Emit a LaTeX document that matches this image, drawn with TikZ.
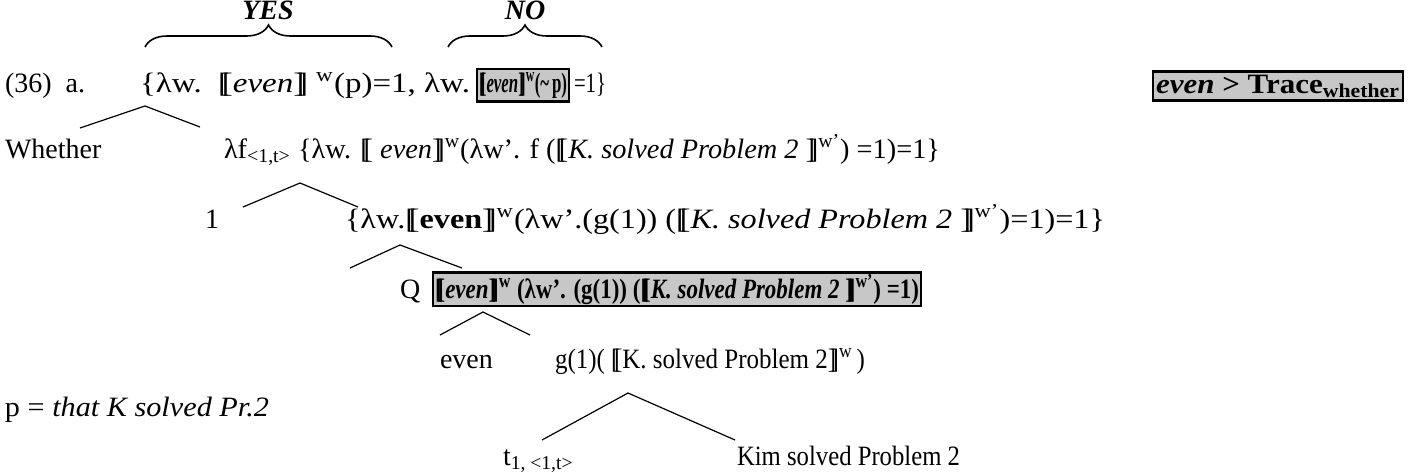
\documentclass[tikz,border=0pt]{standalone}
\usepackage{fontspec}
\usepackage{graphicx}
\setmainfont{Liberation Serif}
\usetikzlibrary{positioning,decorations.pathreplacing}
\newcommand{\lsem}{[\kern-.22em[}
\newcommand{\rsem}{]\kern-.22em]}
\newcommand{\wsup}{\textsuperscript{w}}
\newcommand{\wpsup}{\textsuperscript{w'}}
\newcommand{\fitw}[2]{\resizebox{#1}{\height}{#2}}
\begin{document}
\begin{tikzpicture}[
  x=0.5pt, y=-0.5pt,
  every node/.style={inner sep=0pt, outer sep=0pt, font=\fontsize{14}{16}\selectfont},
  lab/.style={anchor=base west},
  hl/.style={anchor=base west, draw, line width=1.2pt, fill=black!22, inner sep=1pt, font=\fontsize{14}{16}\selectfont\bfseries},
  tag/.style={anchor=base, font=\fontsize{14}{16}\selectfont\bfseries\itshape},
  brc/.style={decorate, decoration={brace, amplitude=11pt}, line width=0.8pt},
  branch/.style={line width=0.6pt}
]
\useasboundingbox (0,0) rectangle (1416,472);

% top labels and braces
\coordinate (yesL) at (145,47);
\coordinate (yesR) at (392,47);
\coordinate (noL) at (448,47);
\coordinate (noR) at (602,47);
\draw[brc] (yesL) -- (yesR);
\draw[brc] (noL) -- (noR);
\node[tag] (yes) at (268,19) {YES};
\node[tag] (no) at (525,19) {NO};

% row 1
\node[lab] (ex) at (5,92) {(36)\hspace{7pt}a.};
\node[lab] (setA) at (140,92) {\fitw{165pt}{\{λw.\ \ \lsem\textit{even}\rsem\ \wsup(p)=1, λw.}};
\node[hl, inner ysep=1.8pt] (nobox) at (477,92) {\fitw{44pt}{\lsem\textit{even}\rsem\wsup(\textasciitilde\,p)}};
\node[lab] (setB) at (574,92) {\fitw{16pt}{=1\}}};
\node[hl, inner sep=1.5pt] (scope) at (1153,93) {\fitw{122pt}{\textit{even} > Trace\textsubscript{whether}}};

% row 2
\node[lab] (whether) at (5,158) {Whether};
\node[lab] (lamf) at (224,158) {\fitw{358pt}{λf\textsubscript{<1,t>} \{λw. \lsem\ \textit{even}\rsem\wsup(λw'. f (\lsem\textit{K. solved Problem 2} \rsem\wpsup) =1)=1\}}};

% row 3
\node[lab] (one) at (205,228) {1};
\node[lab] (setC) at (345,228) {\fitw{380pt}{\{λw.\lsem\textbf{even}\rsem\wsup(λw'.(g(1)) (\lsem\textit{K. solved Problem 2} \rsem\wpsup)=1)=1\}}};

% row 4
\node[lab] (q) at (400,298) {Q};
\node[hl] (qbox) at (433,298) {\fitw{242pt}{\lsem\textit{even}\rsem\wsup\ (λw'. (g(1)) (\lsem\textit{K. solved Problem 2} \rsem\wpsup) =1)}};

% row 5
\node[lab] (even) at (440,368) {even};
\node[lab] (gone) at (555,368) {\fitw{155pt}{g(1)( \lsem K. solved Problem 2\rsem\wsup\,)}};
\node[lab] (pdef) at (5,416) {\fitw{132pt}{p = \textit{that K solved Pr.2}}};

% row 6
\node[lab] (trace) at (503,465) {t\textsubscript{1, <1,t>}};
\node[lab] (kim) at (737,465) {\fitw{111.5pt}{Kim solved Problem 2}};

% branches
\coordinate (b1l) at (80,128); \coordinate (b1t) at (145,106); \coordinate (b1r) at (200,127);
\coordinate (b2l) at (243,207); \coordinate (b2t) at (300,183); \coordinate (b2r) at (358,207);
\coordinate (b3l) at (350,268); \coordinate (b3t) at (400,245); \coordinate (b3r) at (462,268);
\coordinate (b4l) at (440,335); \coordinate (b4t) at (483,312); \coordinate (b4r) at (530,335);
\coordinate (b5l) at (542,440); \coordinate (b5t) at (628,393); \coordinate (b5r) at (735,440);
\draw[branch] (b1l) -- (b1t) -- (b1r);
\draw[branch] (b2l) -- (b2t) -- (b2r);
\draw[branch] (b3l) -- (b3t) -- (b3r);
\draw[branch] (b4l) -- (b4t) -- (b4r);
\draw[branch] (b5l) -- (b5t) -- (b5r);
\end{tikzpicture}
\end{document}
